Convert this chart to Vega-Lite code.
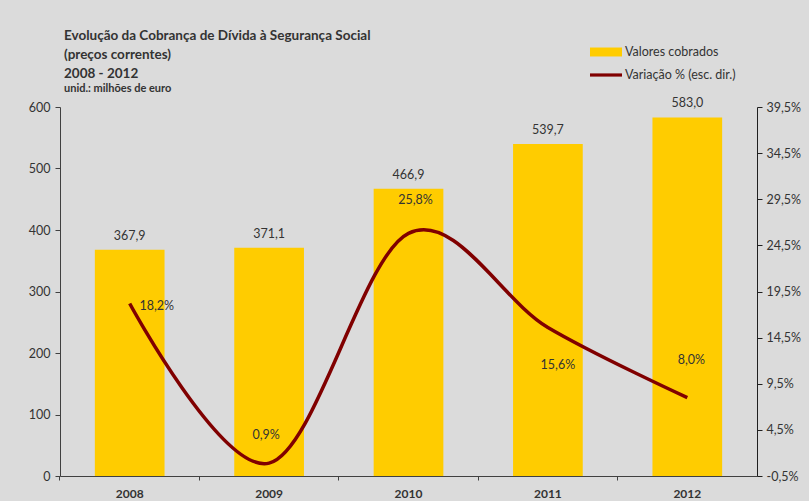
{
  "$schema": "https://vega.github.io/schema/vega-lite/v6.json",
  "autosize": {"type": "none"},
  "width": 697,
  "height": 369,
  "padding": {"left": 60, "top": 107, "right": 52, "bottom": 25},
  "background": "#dbdbdb",
  "title": {
    "text": ["Evolução da Cobrança de Dívida à Segurança Social", " (preços correntes)", "2008 - 2012"],
    "subtitle": "unid.: milhões de euro",
    "anchor": "start",
    "frame": "group",
    "dx": 4,
    "font": "Lato",
    "fontSize": 13.5,
    "fontWeight": "bold",
    "color": "#333333",
    "lineHeight": 19,
    "subtitleFont": "Lato",
    "subtitleFontSize": 11,
    "subtitleFontWeight": "bold",
    "subtitleColor": "#333333",
    "subtitlePadding": 3,
    "offset": -58
  },
  "data": {
    "values": [
      {"ano": "2008", "valor": 367.9, "var": 0.182},
      {"ano": "2009", "valor": 371.1, "var": 0.009},
      {"ano": "2010", "valor": 466.9, "var": 0.258},
      {"ano": "2011", "valor": 539.7, "var": 0.156},
      {"ano": "2012", "valor": 583.0, "var": 0.080}
    ]
  },
  "encoding": {
    "x": {
      "field": "ano",
      "type": "nominal",
      "scale": {"paddingInner": 0.5, "paddingOuter": 0.25},
      "axis": {
        "title": null,
        "labelAngle": 0,
        "labelFont": "Lato",
        "labelFontSize": 12,
        "labelFontWeight": "bold",
        "labelColor": "#333333",
        "labelPadding": 8,
        "tickSize": 4,
        "bandPosition": -0.5,
        "domainColor": "#404040",
        "tickColor": "#404040"
      }
    }
  },
  "layer": [
    {
      "layer": [
        {
          "mark": {"type": "bar"},
          "encoding": {
            "y": {
              "field": "valor",
              "type": "quantitative",
              "scale": {"domain": [0, 600], "nice": false},
              "axis": {
                "title": null,
                "orient": "left",
                "values": [0, 100, 200, 300, 400, 500, 600],
                "grid": false,
                "labelFont": "Lato",
                "labelFontSize": 12.5,
                "labelColor": "#333333",
                "labelPadding": 5,
                "tickSize": 5,
                "domainColor": "#404040",
                "tickColor": "#404040"
              }
            },
            "color": {
              "datum": "Valores cobrados",
              "scale": {"domain": ["Valores cobrados", "Variação % (esc. dir.)"], "range": ["#ffcc00", "#800000"]},
              "legend": {
                "title": null,
                "orient": "none",
                "legendX": 530,
                "legendY": -71,
                "padding": 0,
                "symbolSize": 1024,
                "symbolStrokeWidth": 0,
                "rowPadding": -8,
                "labelOffset": 3,
                "labelFont": "Lato",
                "labelFontSize": 12.5,
                "labelColor": "#333333",
                "encode": {
                  "symbols": {
                    "update": {
                      "shape": {"signal": "datum.value === 'Valores cobrados' ? 'M-1,-0.28H1V0.28H-1Z' : 'M-1,-0.1H1V0.1H-1Z'"}
                    }
                  }
                }
              }
            }
          }
        },
        {
          "mark": {"type": "text", "dy": -14, "font": "Lato", "fontSize": 12.5, "color": "#333333"},
          "encoding": {
            "y": {"field": "valor", "type": "quantitative"},
            "text": {"field": "valor", "type": "quantitative", "format": ".1f"}
          }
        }
      ]
    },
    {
      "layer": [
        {
          "mark": {"type": "line", "strokeWidth": 3.5, "interpolate": "cardinal"},
          "encoding": {
            "y": {
              "field": "var",
              "type": "quantitative",
              "scale": {"domain": [-0.005, 0.395], "nice": false, "zero": false},
              "axis": {
                "title": null,
                "orient": "right",
                "format": ".1%",
                "values": [-0.005, 0.045, 0.095, 0.145, 0.195, 0.245, 0.295, 0.345, 0.395],
                "grid": false,
                "labelFont": "Lato",
                "labelFontSize": 12.5,
                "labelColor": "#333333",
                "labelPadding": 4,
                "tickSize": 5,
                "domainColor": "#202020",
                "tickColor": "#202020"
              }
            },
            "color": {"datum": "Variação % (esc. dir.)"}
          }
        },
        {
          "transform": [{"filter": "datum.ano === '2008'"}],
          "mark": {"type": "text", "dx": 27, "dy": 3, "font": "Lato", "fontSize": 12.5, "color": "#333333"},
          "encoding": {"y": {"field": "var", "type": "quantitative"}, "text": {"field": "var", "type": "quantitative", "format": ".1%"}}
        },
        {
          "transform": [{"filter": "datum.ano === '2009'"}],
          "mark": {"type": "text", "dx": -3, "dy": -28, "font": "Lato", "fontSize": 12.5, "color": "#333333"},
          "encoding": {"y": {"field": "var", "type": "quantitative"}, "text": {"field": "var", "type": "quantitative", "format": ".1%"}}
        },
        {
          "transform": [{"filter": "datum.ano === '2010'"}],
          "mark": {"type": "text", "dx": 7, "dy": -33, "font": "Lato", "fontSize": 12.5, "color": "#333333"},
          "encoding": {"y": {"field": "var", "type": "quantitative"}, "text": {"field": "var", "type": "quantitative", "format": ".1%"}}
        },
        {
          "transform": [{"filter": "datum.ano === '2011'"}],
          "mark": {"type": "text", "dx": 10, "dy": 38, "font": "Lato", "fontSize": 12.5, "color": "#333333"},
          "encoding": {"y": {"field": "var", "type": "quantitative"}, "text": {"field": "var", "type": "quantitative", "format": ".1%"}}
        },
        {
          "transform": [{"filter": "datum.ano === '2012'"}],
          "mark": {"type": "text", "dx": 4, "dy": -38, "font": "Lato", "fontSize": 12.5, "color": "#333333"},
          "encoding": {"y": {"field": "var", "type": "quantitative"}, "text": {"field": "var", "type": "quantitative", "format": ".1%"}}
        }
      ]
    }
  ],
  "resolve": {"scale": {"y": "independent"}},
  "config": {
    "view": {"stroke": null},
    "locale": {"number": {"decimal": ",", "thousands": ".", "grouping": [3], "currency": ["", " €"], "minus": "-"}}
  }
}
